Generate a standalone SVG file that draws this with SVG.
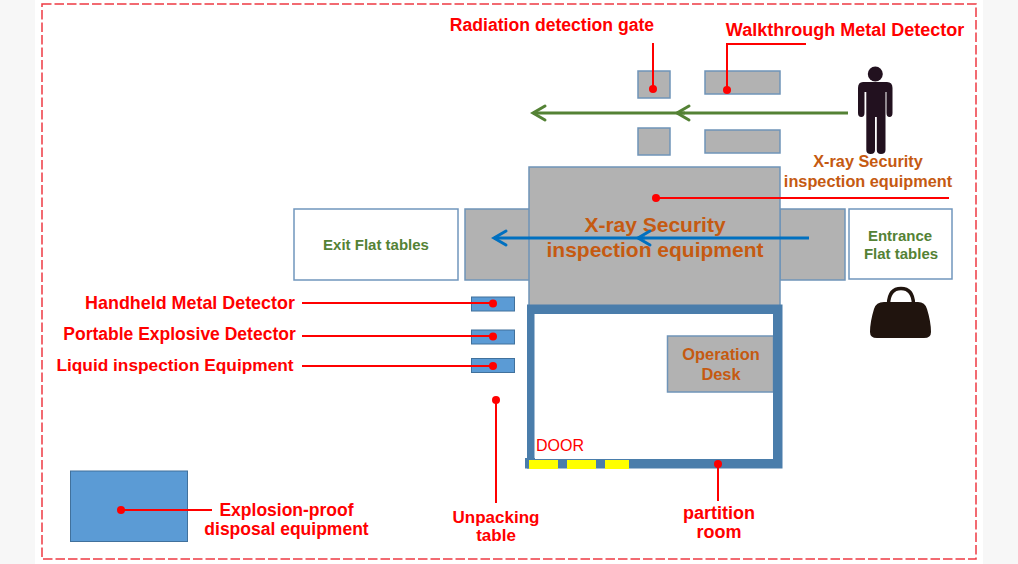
<svg xmlns="http://www.w3.org/2000/svg" width="1018" height="564" viewBox="0 0 1018 564">
<defs>
<marker id="open-g" markerUnits="userSpaceOnUse" markerWidth="18" markerHeight="20" refX="15" refY="10" orient="auto"><path d="M3 3 L15 10 L3 17" fill="none" stroke="#548235" stroke-width="3" stroke-linecap="round" stroke-linejoin="miter"/></marker>
<marker id="open-b" markerUnits="userSpaceOnUse" markerWidth="18" markerHeight="20" refX="15" refY="10" orient="auto"><path d="M3 3 L15 10 L3 17" fill="none" stroke="#0070c0" stroke-width="3" stroke-linecap="round" stroke-linejoin="miter"/></marker>
</defs>
<style>
text{font-family:"Liberation Sans",Arial,sans-serif;font-weight:bold;text-anchor:middle}
.g{fill:#b2b2b2;stroke:#6f94b8;stroke-width:1.500}
.w{fill:#fff;stroke:#7096bd;stroke-width:1.500}
.b{fill:#5b9bd5;stroke:#41719c;stroke-width:1}
.r{fill:#f00}.rl{stroke:#f00;stroke-width:2;fill:none}
.o{fill:#c55a11}.gt{fill:#548235}
.lab{font-size:17.500px;fill:#f00}
</style>
<rect width="1018" height="564" fill="#f7f7f7"/>
<rect x="35" width="948" height="564" fill="#fff"/>
<rect x="42" y="4" width="934" height="555" fill="none" stroke="#ee3a43" stroke-width="1.500" stroke-dasharray="9.500 3"/>

<g id="gate-radiation-top"><rect class="g" x="638" y="71" width="32" height="27"/></g>
<g id="gate-radiation-bottom"><rect class="g" x="638" y="128" width="32" height="27"/></g>
<g id="gate-metal-top"><rect class="g" x="705" y="71" width="75" height="23"/></g>
<g id="gate-metal-bottom"><rect class="g" x="705" y="130" width="75" height="23"/></g>

<g id="exit-table"><rect class="w" x="294" y="209" width="164" height="71"/><text class="gt" x="376" y="250" font-size="15">Exit Flat tables</text></g>
<g id="entrance-table"><rect class="w" x="849" y="209" width="103" height="70"/><text class="gt" font-size="15"><tspan x="900" y="241">Entrance</tspan><tspan x="901" y="259">Flat tables</tspan></text></g>
<g id="conveyor-left"><rect class="g" x="465" y="209" width="65" height="71"/></g>
<g id="conveyor-right"><rect class="g" x="780" y="209" width="65" height="71"/></g>
<g id="xray"><rect class="g" x="529" y="167" width="251" height="140"/><text class="o" font-size="21"><tspan x="655" y="232">X-ray Security</tspan><tspan x="655" y="257">inspection equipment</tspan></text></g>

<g id="handheld"><rect class="b" x="471.500" y="297" width="43" height="14"/></g>
<g id="portable"><rect class="b" x="471.500" y="330" width="43" height="14"/></g>
<g id="liquid"><rect class="b" x="471.500" y="358.500" width="43" height="14"/></g>
<g id="disposal"><rect class="b" x="70.500" y="471" width="117" height="70.500"/></g>

<g id="operation-desk"><rect class="g" x="667.500" y="336" width="106" height="56"/><text class="o" font-size="16.400"><tspan x="721" y="360">Operation</tspan><tspan x="721" y="380">Desk</tspan></text></g>
<g id="partition-room">
<path fill="#4a7dab" fill-rule="evenodd" d="M527 304.500 H782.500 V468.500 H527 Z M534.500 314 V459 H773 V314 Z"/>
<rect x="525" y="458" width="10" height="10.500" fill="#4a7dab"/>
<rect x="529" y="460" width="29" height="9" fill="#ff0"/><rect x="567" y="460" width="29" height="9" fill="#ff0"/><rect x="605" y="460" width="24" height="9" fill="#ff0"/>
<text x="560" y="451" font-size="16" fill="#f00" style="font-weight:normal">DOOR</text>
</g>

<g id="person" fill="#22111f">
<circle cx="875.300" cy="74" r="7.500"/>
<path d="M863 82 H887 Q892.500 82 892.500 88 V113 Q892.500 117 889.500 117 Q886.500 117 886.500 113 V92 H885.500 V150 Q885.500 154 881 154 Q876.800 154 876.800 150 V117 H875 V150 Q875 154 870.700 154 Q866.300 154 866.300 150 V92 H864.500 V113 Q864.500 117 861.300 117 Q858 117 858 113 V88 Q858 82 863 82 Z"/>
</g>
<g id="bag" fill="#20140e">
<path d="M888.500 304 Q889 288.500 901 288.500 Q913 288.500 913.500 304" fill="none" stroke="#20140e" stroke-width="3.500"/>
<path d="M884 302 H918 Q925 302 927 309 Q931 322 931 332 Q931 338 924 338 H877 Q870 338 870 332 Q870 322 874 309 Q876 302 884 302 Z"/>
</g>

<g id="connectors">
<path d="M848 113 H677" fill="none" stroke="#548235" stroke-width="3" marker-end="url(#open-g)"/>
<path d="M685 113 H533" fill="none" stroke="#548235" stroke-width="3" marker-end="url(#open-g)"/>
<path d="M809 238 H638" fill="none" stroke="#0070c0" stroke-width="3" marker-end="url(#open-b)"/>
<path d="M645 238 H494" fill="none" stroke="#0070c0" stroke-width="3" marker-end="url(#open-b)"/>
<path class="rl" d="M653 43 V89"/>
<path class="rl" d="M806 44 H727 V90"/>
<path class="rl" d="M656 198 H949"/>
<path class="rl" d="M302 303 H493"/><path class="rl" d="M302 336 H493"/><path class="rl" d="M302 366 H493"/>
<path class="rl" d="M496 400 V503"/>
<path class="rl" d="M718 464 V501"/>
<path class="rl" d="M121 510 H212"/>
<g class="r"><circle cx="653" cy="89" r="4"/><circle cx="727" cy="90" r="4"/><circle cx="656" cy="198" r="4"/><circle cx="493" cy="303.500" r="4"/><circle cx="493" cy="336.500" r="4"/><circle cx="493" cy="366" r="4"/><circle cx="496" cy="400" r="4"/><circle cx="718" cy="464" r="4"/><circle cx="121" cy="510" r="4"/></g>
</g>

<g id="labels">
<text class="lab" x="552" y="31" font-size="17.600" style="font-size:17.600px">Radiation detection gate</text>
<text class="lab" x="845" y="36" style="font-size:18px">Walkthrough Metal Detector</text>
<text class="o" font-size="16.300"><tspan x="868" y="167">X-ray Security</tspan><tspan x="868" y="187">inspection equipment</tspan></text>
<text class="lab" x="190" y="309" style="font-size:17.900px">Handheld Metal Detector</text>
<text class="lab" x="179.500" y="340">Portable Explosive Detector</text>
<text class="lab" x="175" y="371" style="font-size:17.300px">Liquid inspection Equipment</text>
<text class="lab" style="font-size:17px"><tspan x="496" y="523">Unpacking</tspan><tspan x="496" y="541">table</tspan></text>
<text class="lab" style="font-size:18px"><tspan x="719" y="519">partition</tspan><tspan x="719" y="538">room</tspan></text>
<text class="lab"><tspan x="286.500" y="516">Explosion-proof</tspan><tspan x="286.500" y="535">disposal equipment</tspan></text>
</g>
</svg>
